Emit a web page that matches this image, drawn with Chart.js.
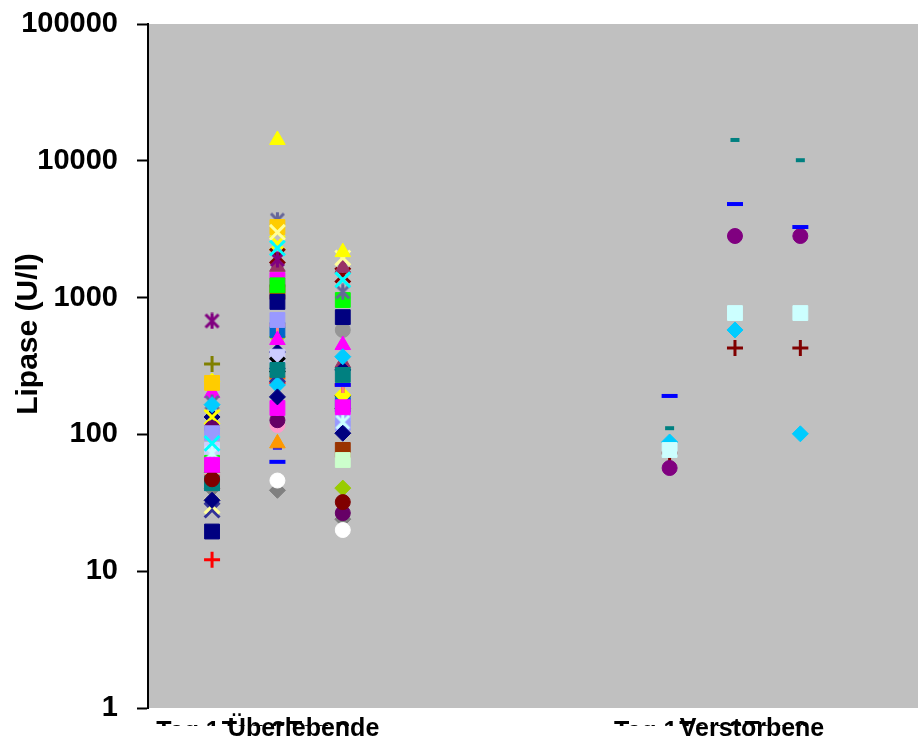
<!DOCTYPE html>
<html>
<head>
<meta charset="utf-8">
<script src="https://cdn.jsdelivr.net/npm/chart.js@4.4.1/dist/chart.umd.min.js"></script>
<style>
  html, body { margin: 0; padding: 0; background: #fff; }
  canvas { display: block; }
</style>
</head>
<body>
<canvas id="chartLipase" width="918" height="740"></canvas>
<script>
// ==========================================
// DATOS
// ==========================================
const yTitulo = 'Lipase (U/l)';
const yTicks = [1, 10, 100, 1000, 10000, 100000];
const gruppen = ['Überlebende', 'Verstorbene'];
const tageUeberlebende = ['Tag 1', 'Tag 2', 'Tag 3'];
const tageVerstorbene = ['Tag 1', 'Tag 2', 'Tag 3'];
const posUeberlebende = [1, 2, 3];
const posVerstorbene = [8, 9, 10];

// Werte je Patient: [Tag 1, Tag 2, Tag 3]
const werteUeberlebende = [
  [33, 188, 102],
  [60, 156, 158],
  [null, 14200, 2150],
  [86, 2300, 1350],
  [675, 1900, null],
  [47, null, 32],
  [44, 296, 272],
  [null, 63, 230],
  [165, 230, 370],
  [73, 158, 123],
  [null, null, 65],
  [30, 3000, 1950],
  [238, 3280, null],
  [null, 86, null],
  [171, 3690, 1100],
  [28, 272, null],
  [57, 1680, 1650],
  [null, 2010, 1460],
  [19.5, 930, 720],
  [102, 686, 121],
  [111, 127, 26.6],
  [null, 46, 20],
  [40, 39, 24],
  [62, 1230, 960],
  [null, 1100, 77],
  [201, 490, 450],
  [50, 630, 230],
  [null, 321, null],
  [12.1, 240, 230],
  [134, 2500, null],
  [245, null, 194],
  [null, null, 580],
  [44, 580, 165],
  [77, 370, 143],
  [null, null, 172],
  [null, 515, 40.5],
  [327, null, null],
  [134, 400, 296],
  [null, 258, null],
  [null, 117, null],
  [null, 1350, null],
  [null, 80, null],
  [null, null, 333]
];

const werteVerstorbene = [
  [111, 14200, 10100],
  [191, 4830, 3280],
  [56.8, 2820, 2820],
  [76.9, 771, 771],
  [88, 580, 101],
  [73, 428, 428]
];

// ==========================================
// STIL (Excel-Marker)
// ==========================================
const farbenUeberlebende = [
  '#000080', '#ff00ff', '#ffff00', '#00ffff', '#800080', '#800000', '#008080', '#0000ff',
  '#00ccff', '#ccffff', '#ccffcc', '#ffff99', '#ffcc00', '#ff9900', '#666699', '#333399',
  '#993366', '#800000', '#000080', '#9999ff', '#660066', '#ffffff', '#808080', '#00ff00',
  '#993300', '#ff00ff', '#ff8080', '#000000', '#ff0000', '#ffff00', '#ffff00', '#969696',
  '#0066cc', '#ccccff', '#003300', '#99cc00', '#808000', '#000080', '#ff6600', '#ff99cc',
  '#ff00ff', '#0000ff', '#993366'
];
const formenUeberlebende = [
  'raute', 'quadrat', 'dreieck', 'x', 'stern', 'kreis', 'quadrat', 'strich',
  'raute', 'stern', 'quadrat', 'x', 'quadrat', 'dreieck', 'stern', 'x',
  'dreieck', 'x', 'quadrat', 'quadrat', 'kreis', 'kreis', 'raute', 'quadrat',
  'quadrat', 'dreieck', 'plus', 'x', 'plus', 'x', 'raute', 'kreis',
  'quadrat', 'quadrat', 'x', 'raute', 'plus', 'raute', 'plus', 'kreis',
  'quadrat', 'kurzstrich', 'dreieck'
];
const farbenVerstorbene = ['#008080', '#0000ff', '#800080', '#ccffff', '#00ccff', '#800000'];
const formenVerstorbene = ['kurzstrich', 'strich', 'kreis', 'quadrat', 'raute', 'plus'];

const FONT = '"Liberation Sans", Arial, sans-serif';

function asterisco(color) {
  const c = document.createElement('canvas');
  c.width = 17; c.height = 17;
  const g = c.getContext('2d');
  g.strokeStyle = color;
  g.lineWidth = 3;
  g.beginPath();
  g.moveTo(2, 2); g.lineTo(15, 15);
  g.moveTo(15, 2); g.lineTo(2, 15);
  g.moveTo(8.5, 0.5); g.lineTo(8.5, 16.5);
  g.stroke();
  return c;
}

function markerStil(form, color) {
  switch (form) {
    case 'raute':      return { pointStyle: 'rectRot', pointRadius: 8, borderWidth: 1 };
    case 'quadrat':    return { pointStyle: 'rect', pointRadius: 10.5, borderWidth: 1 };
    case 'dreieck':    return { pointStyle: 'triangle', pointRadius: 9, borderWidth: 1 };
    case 'kreis':      return { pointStyle: 'circle', pointRadius: 7.5, borderWidth: 1 };
    case 'plus':       return { pointStyle: 'cross', pointRadius: 8, borderWidth: 3 };
    case 'x':          return { pointStyle: 'crossRot', pointRadius: 10.5, borderWidth: 3 };
    case 'stern':      return { pointStyle: asterisco(color), pointRadius: 8, borderWidth: 3 };
    case 'strich':     return { pointStyle: 'line', pointRadius: 8, borderWidth: 4 };
    case 'kurzstrich': return { pointStyle: 'line', pointRadius: 4.5, borderWidth: 4 };
  }
}

function baueDatensaetze(werte, pos, farben, formen) {
  return werte.map((v, i) => {
    const st = markerStil(formen[i], farben[i]);
    return {
      data: pos.map((x, k) => v[k] == null ? null : { x: x, y: v[k] }).filter(Boolean),
      backgroundColor: farben[i],
      borderColor: farben[i],
      pointStyle: st.pointStyle,
      pointRadius: st.pointRadius,
      pointHoverRadius: st.pointRadius,
      pointBorderWidth: st.borderWidth,
      showLine: false
    };
  });
}

const datensaetze = [
  ...baueDatensaetze(werteUeberlebende, posUeberlebende, farbenUeberlebende, formenUeberlebende),
  ...baueDatensaetze(werteVerstorbene, posVerstorbene, farbenVerstorbene, formenVerstorbene)
];

// Hintergrund und Beschriftungen
const fondoYTextos = {
  id: 'fondoYTextos',
  beforeDraw(chart) {
    const { ctx, chartArea: a } = chart;
    ctx.save();
    ctx.fillStyle = '#c0c0c0';
    ctx.fillRect(a.left, a.top, a.right - a.left, a.bottom - a.top);
    ctx.restore();
  },
  afterDraw(chart) {
    const ctx = chart.ctx;
    const sx = chart.scales.x;
    const a = chart.chartArea;

    // Achsentitel
    ctx.save();
    ctx.fillStyle = '#000';
    ctx.font = 'bold 30px ' + FONT;
    ctx.translate(29, 334);
    ctx.rotate(-Math.PI / 2);
    ctx.textAlign = 'center';
    ctx.textBaseline = 'middle';
    ctx.fillText(yTitulo, 0, 0);
    ctx.restore();

    // Tag-Beschriftungen (unten abgeschnitten)
    ctx.save();
    ctx.beginPath();
    ctx.rect(0, a.bottom, chart.width, 18);
    ctx.clip();
    ctx.fillStyle = '#000';
    ctx.font = 'bold 25px ' + FONT;
    ctx.textAlign = 'center';
    ctx.textBaseline = 'alphabetic';
    posUeberlebende.forEach((p, i) => ctx.fillText(tageUeberlebende[i], sx.getPixelForValue(p) - 24, a.bottom + 31));
    posVerstorbene.forEach((p, i) => ctx.fillText(tageVerstorbene[i], sx.getPixelForValue(p) - 24, a.bottom + 31));
    ctx.restore();

    // Gruppen
    ctx.save();
    ctx.fillStyle = '#000';
    ctx.font = 'bold 25px ' + FONT;
    ctx.textAlign = 'center';
    ctx.textBaseline = 'alphabetic';
    ctx.fillText(gruppen[0], sx.getPixelForValue(2.4), a.bottom + 28);
    ctx.fillText(gruppen[1], sx.getPixelForValue(9.26), a.bottom + 28);
    ctx.restore();
  }
};

new Chart(document.getElementById('chartLipase'), {
  type: 'scatter',
  data: { datasets: datensaetze },
  plugins: [fondoYTextos],
  options: {
    responsive: false,
    animation: false,
    layout: { autoPadding: false, padding: { top: 24, right: 0, bottom: 32, left: 0 } },
    plugins: { legend: { display: false }, tooltip: { enabled: false } },
    scales: {
      x: { type: 'linear', display: false, min: 0.02, max: 11.8 },
      y: {
        type: 'logarithmic',
        min: 1,
        max: 100000,
        afterBuildTicks: (scale) => { scale.ticks = yTicks.map(v => ({ value: v })); },
        afterFit: (scale) => {
          scale.width = 148;
          scale.paddingTop = 0;
          scale.paddingBottom = 0;
          scale.paddingLeft = 0;
          scale.paddingRight = 0;
        },
        border: { display: true, color: '#000', width: 2 },
        grid: { drawOnChartArea: false, drawTicks: true, tickLength: 11, tickWidth: 2, tickColor: '#000' },
        ticks: {
          color: '#000',
          padding: 19,
          font: { family: FONT, size: 29, weight: 'bold' },
          callback: (v) => String(v)
        }
      }
    }
  }
});
</script>
</body>
</html>
